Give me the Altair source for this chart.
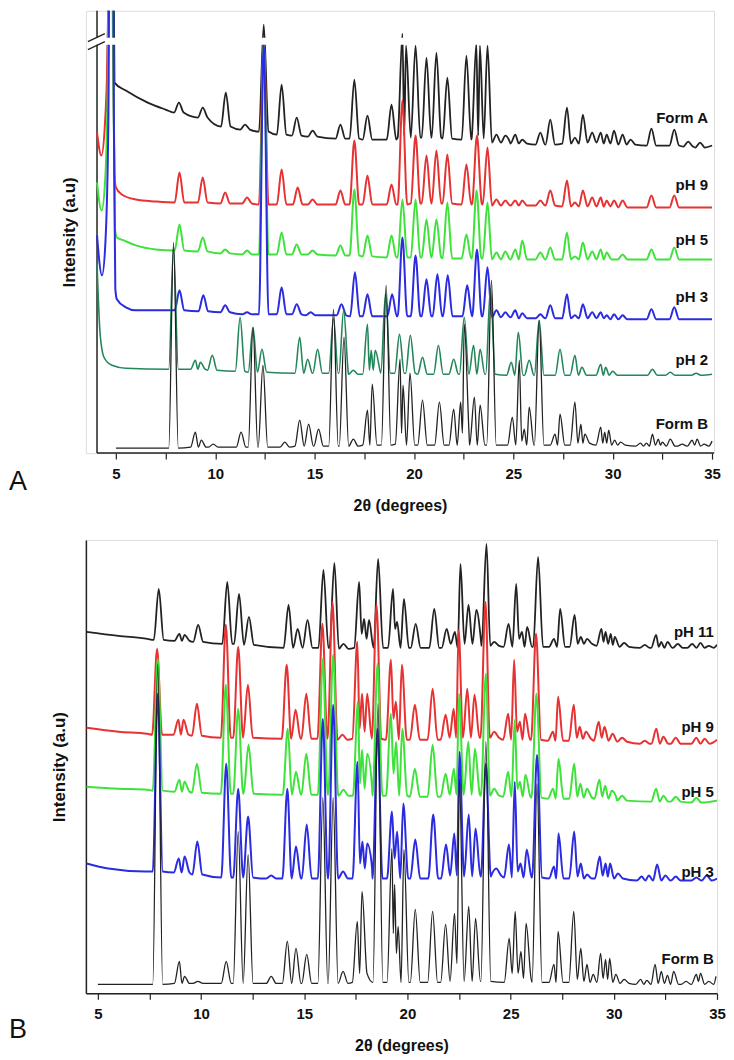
import altair as alt
import pandas as pd

FONT = "Liberation Sans"
W = 0.24  # half width of a peak foot, degrees

BLACK = "#222222"
RED = "#e63232"
LGREEN = "#3ee23a"
BLUE = "#2b2be0"
DGREEN = "#23875a"

# ------------------------------------------------------------------ panel A
A_X_DOMAIN = [3.49, 35.1]      # plot area starts left of the drawn axis line
A_AXIS_X = [4.05, 35.1]        # where panel A's axis lines run
A_Y_DOMAIN = [0, 443]
A_BREAK = [409, 416]

A_FA_BG_X = [4.55, 4.68, 4.75, 4.85, 4.93, 5.5, 6.6, 7.5, 35.0]
A_FA_BG_Y = [341, 600, 900, 600, 371, 363, 351, 344, 308]
A_FA_POS = [8.17, 9.37, 10.53, 11.5, 12.44, 13.34, 14.1, 14.9, 16.3, 17.0, 17.66, 18.87, 19.42, 19.6, 20.08,
            20.63, 21.13, 21.68, 22.64, 23.14, 23.32, 23.7, 24.15, 24.6, 25.1, 25.45, 26.36, 26.86, 27.7, 28.1,
            28.5, 28.97, 29.4, 29.7, 30.07, 30.5, 30.9, 31.95, 33.1, 33.8, 34.4]
A_FA_TOP = [351, 346, 361, 329, 429, 369, 336, 323, 329, 374, 338, 349, 420, 408, 408,
            396, 401, 376, 398, 410, 408, 408, 319, 318, 319, 314, 321, 334, 346, 316,
            339, 321, 321, 319, 323, 319, 314, 325, 324, 312, 311]
A_FA_BASE = [341, 336, 327, 324, 322, 319, 318, 317, 315, 315, 314, 314, 316, 318, 316,
             316, 316, 315, 314, 315, 318, 315, 311, 311, 310, 310, 309, 309, 310, 310,
             310, 311, 311, 310, 310, 309, 309, 308, 308, 307, 306]

A_P9_BG_X = [4.05, 4.27, 4.45, 4.6, 4.72, 4.85, 4.93, 5.0, 5.3, 6.0, 7.0, 35.0]
A_P9_BG_Y = [321, 298, 330, 420, 900, 420, 280, 266, 259, 254, 252, 246]
A_P9_POS = [8.2, 9.37, 10.5, 11.6, 12.44, 13.34, 14.15, 14.9, 16.3, 17.0, 17.66, 18.87, 19.42, 20.08,
            20.63, 21.13, 21.68, 22.64, 23.17, 23.7, 24.15, 24.6, 25.1, 25.45, 26.36, 26.86, 27.7, 28.1,
            28.5, 28.97, 29.4, 29.7, 30.07, 30.5, 31.95, 33.1]
A_P9_TOP = [281, 276, 261, 256, 412, 284, 266, 254, 263, 313, 278, 269, 353, 318,
            298, 303, 299, 289, 318, 306, 254, 253, 253, 253, 253, 263, 273, 251,
            263, 256, 256, 253, 253, 253, 258, 258]
A_P9_BASE = [251, 251, 250, 250, 249, 249, 249, 249, 249, 249, 249, 249, 249, 250,
             250, 250, 250, 249, 250, 249, 248, 248, 248, 248, 248, 248, 247, 247,
             247, 247, 247, 247, 247, 246, 246, 246]

A_P5_BG_X = [4.05, 4.28, 4.45, 4.6, 4.74, 4.87, 4.95, 5.05, 5.4, 6.0, 7.0, 35.0]
A_P5_BG_Y = [271, 243, 270, 380, 900, 380, 225, 216, 213, 208, 204, 194]
A_P5_POS = [8.2, 9.37, 10.5, 11.6, 12.44, 13.34, 14.1, 14.9, 16.3, 17.0, 17.66, 18.87, 19.42, 20.08,
            20.63, 21.13, 21.68, 22.64, 23.15, 23.7, 24.15, 24.6, 25.1, 25.45, 26.36, 26.86, 27.7, 28.1,
            28.5, 28.97, 29.4, 29.7, 30.5, 31.95, 33.1]
A_P5_TOP = [229, 216, 204, 203, 412, 221, 209, 203, 208, 264, 218, 218, 254, 254,
            234, 234, 251, 219, 263, 251, 201, 202, 204, 213, 201, 206, 221, 197,
            211, 202, 204, 201, 199, 204, 206]
A_P5_BASE = [203, 202, 200, 199, 199, 199, 199, 199, 198, 198, 197, 196, 196, 196,
             196, 196, 195, 195, 195, 195, 194, 194, 194, 194, 194, 194, 194, 194,
             194, 194, 194, 194, 194, 194, 194]

A_P3_BG_X = [4.05, 4.3, 4.47, 4.62, 4.76, 4.9, 4.97, 5.05, 5.5, 6.0, 7.0, 35.0]
A_P3_BG_Y = [218, 178, 210, 330, 900, 330, 165, 154, 146, 143, 143, 134]
A_P3_POS = [8.2, 9.4, 10.5, 11.6, 12.44, 13.34, 14.1, 14.8, 16.35, 17.03, 17.66, 18.9, 19.42, 20.08,
            20.63, 21.18, 21.7, 22.68, 23.17, 23.7, 24.15, 24.6, 25.1, 25.45, 26.36, 26.86, 27.7, 28.1,
            28.5, 28.97, 29.4, 29.7, 30.07, 30.5, 31.95, 33.1]
A_P3_TOP = [163, 158, 148, 141, 412, 166, 149, 141, 149, 181, 159, 159, 216, 198,
            174, 179, 178, 168, 204, 186, 143, 141, 143, 140, 139, 148, 159, 138,
            149, 141, 141, 138, 139, 138, 144, 146]
A_P3_BASE = [143, 142, 141, 139, 139, 139, 139, 138, 138, 137, 137, 137, 137, 137,
             137, 137, 137, 137, 137, 137, 136, 136, 136, 135, 135, 135, 135, 135,
             135, 135, 135, 135, 134, 134, 134, 134]

A_P2_BG_X = [4.05, 4.2, 4.4, 4.8, 5.5, 35.0]
A_P2_BG_Y = [190, 121, 96, 88, 85, 79]
A_P2_POS = [7.9, 9.0, 9.25, 9.85, 11.25, 11.9, 12.35, 14.25, 14.65, 15.15, 15.95, 16.46, 16.95, 17.66,
            17.85, 18.05, 18.57, 19.27, 19.82, 20.43, 21.23, 22.0, 22.53, 23.0, 23.33, 23.85, 24.9, 25.25,
            25.8, 26.3, 27.35, 28.1, 28.45, 29.4, 29.65, 30.0, 32.0, 32.9, 34.2]
A_P2_TOP = [206, 93, 91, 98, 136, 126, 104, 116, 94, 104, 135, 143, 83, 129,
            103, 103, 160, 119, 118, 96, 108, 94, 136, 108, 104, 165, 91, 121,
            93, 133, 104, 98, 86, 89, 86, 82, 84, 81, 80]
A_P2_BASE = [84, 84, 84, 83, 82, 81, 81, 80, 80, 80, 80, 80, 79, 79,
             83, 83, 80, 80, 80, 79, 79, 79, 79, 79, 79, 79, 78, 78,
             78, 78, 78, 78, 78, 78, 78, 78, 78, 78, 78]

A_FB_BG_X = [5.0, 35.0]
A_FB_BG_Y = [5, 12]
A_FB_POS = [7.9, 9.0, 9.3, 9.9, 11.3, 11.9, 12.4, 13.5, 14.25, 14.7, 15.2, 15.95, 16.48, 16.95,
            17.66, 17.9, 18.6, 19.3, 19.45, 19.8, 20.43, 21.28, 22.0, 22.35, 22.53, 23.04, 23.33, 23.9,
            24.95, 25.3, 25.55, 25.8, 26.3, 27.1, 27.35, 28.1, 28.4, 28.6, 29.4, 29.6, 29.8, 30.1,
            30.4, 31.4, 31.7, 32.0, 32.3, 32.5, 32.9, 33.5, 34.0, 34.25, 34.6]
A_FB_TOP = [211, 21, 13, 9, 21, 126, 88, 11, 33, 29, 24, 144, 116, 14,
            43, 69, 168, 94, 68, 80, 53, 51, 44, 51, 129, 56, 48, 173,
            36, 93, 24, 46, 133, 19, 39, 51, 29, 19, 26, 21, 23, 13,
            11, 10, 10, 19, 14, 11, 14, 9, 13, 14, 9]
A_FB_BASE = [5, 6, 6, 6, 6, 6, 6, 6, 7, 7, 7, 7, 7, 7,
             8, 8, 8, 9, 20, 8, 8, 8, 8, 8, 20, 8, 8, 8,
             8, 8, 12, 8, 8, 8, 8, 8, 10, 10, 8, 10, 10, 8,
             8, 7, 7, 7, 8, 8, 7, 7, 7, 8, 7]

A_LABELS = ["Form A", "pH 9", "pH 5", "pH 3", "pH 2", "Form B"]
A_LABEL_T = [34.8, 34.8, 34.8, 34.8, 34.8, 34.8]
A_LABEL_V = [336, 268, 213, 156, 93, 29]

# ------------------------------------------------------------------ panel B
B_X_DOMAIN = [4.42, 35.0]
B_Y_DOMAIN = [0, 454]

B_P11_BG_X = [4.45, 6.0, 7.4, 35.0]
B_P11_BG_Y = [362, 358, 355, 349]
B_P11_POS = [7.95, 8.95, 9.2, 9.86, 11.27, 11.84, 12.32, 14.24, 14.68, 15.16, 15.93, 16.46, 16.9, 17.66,
             17.9, 18.14, 18.58, 19.3, 19.5, 19.83, 20.4, 21.3, 21.9, 22.3, 22.57, 22.96, 23.34, 23.83,
             24.2, 24.9, 25.27, 25.55, 25.8, 26.33, 27.1, 27.4, 28.1, 28.4, 28.7, 29.4, 29.6, 29.85,
             30.05, 30.5, 31.5, 32.05, 32.3, 32.6, 33.1, 33.8, 34.2, 34.6]
B_P11_TOP = [405, 360, 359, 369, 412, 400, 377, 389, 365, 374, 424, 431, 350, 412,
             375, 374, 435, 405, 372, 395, 370, 385, 365, 362, 430, 389, 384, 450,
             352, 370, 410, 362, 367, 437, 355, 385, 379, 357, 355, 365, 362, 360,
             357, 351, 349, 359, 352, 352, 350, 350, 351, 348]
B_P11_BASE = [354, 353, 353, 352, 350, 350, 349, 346, 346, 346, 346, 346, 345, 346,
              360, 355, 346, 346, 365, 346, 346, 346, 346, 350, 346, 350, 350, 348,
              348, 347, 347, 355, 347, 347, 347, 347, 347, 350, 350, 348, 352, 350,
              349, 347, 346, 346, 347, 346, 346, 346, 346, 346]

B_P9_BG_X = [4.45, 6.0, 7.4, 35.0]
B_P9_BG_Y = [266, 262, 260, 254]
B_P9_POS = [7.87, 8.9, 9.15, 9.8, 11.2, 11.8, 12.27, 14.15, 14.58, 15.1, 15.88, 16.37, 16.85, 17.57,
            17.8, 18.05, 18.5, 19.2, 19.44, 19.73, 20.36, 21.22, 21.85, 22.24, 22.48, 22.9, 23.25, 23.78,
            24.2, 24.88, 25.17, 25.45, 25.7, 26.23, 27.05, 27.3, 28.06, 28.35, 28.65, 29.27, 29.55, 29.94,
            30.4, 31.5, 32.06, 32.4, 33.0, 34.0, 34.4]
B_P9_TOP = [345, 274, 274, 290, 369, 347, 309, 329, 284, 300, 370, 392, 259, 352,
            300, 300, 389, 334, 292, 329, 289, 305, 279, 285, 364, 305, 299, 392,
            262, 280, 334, 272, 280, 360, 262, 297, 289, 267, 262, 272, 267, 260,
            256, 253, 265, 257, 256, 256, 255]
B_P9_BASE = [259, 259, 259, 258, 256, 256, 256, 255, 255, 255, 255, 255, 254, 255,
             265, 262, 255, 254, 275, 254, 254, 254, 254, 256, 256, 256, 256, 256,
             256, 254, 254, 262, 254, 254, 253, 253, 253, 256, 255, 253, 256, 253,
             252, 250, 250, 250, 250, 250, 250]

B_P5_BG_X = [4.45, 6.0, 7.4, 35.0]
B_P5_BG_Y = [207, 205, 204, 193]
B_P5_POS = [7.9, 8.95, 9.2, 9.8, 11.2, 11.8, 12.3, 14.2, 14.6, 15.1, 15.9, 16.4, 16.9, 17.6,
            17.8, 18.05, 18.55, 19.2, 19.45, 19.75, 20.36, 21.22, 21.85, 22.25, 22.5, 22.95, 23.27, 23.8,
            24.2, 24.88, 25.2, 25.45, 25.72, 26.25, 27.05, 27.32, 28.08, 28.38, 28.7, 29.3, 29.58, 29.9,
            30.4, 32.05, 32.4, 33.0, 34.0]
B_P5_TOP = [335, 214, 212, 230, 309, 285, 249, 265, 222, 240, 335, 339, 204, 292,
            244, 240, 330, 280, 252, 265, 225, 249, 220, 225, 300, 252, 245, 320,
            205, 222, 274, 212, 219, 300, 205, 235, 230, 210, 205, 214, 208, 203,
            198, 205, 198, 197, 196]
B_P5_BASE = [203, 202, 202, 201, 200, 200, 200, 199, 199, 199, 199, 199, 198, 198,
             210, 205, 198, 198, 220, 198, 197, 197, 197, 199, 199, 199, 199, 198,
             198, 197, 197, 205, 197, 196, 195, 195, 195, 197, 196, 195, 197, 195,
             193, 192, 192, 192, 191]

B_P3_BG_X = [4.45, 5.5, 7.3, 35.0]
B_P3_BG_Y = [130, 125, 122, 115]
B_P3_POS = [7.9, 8.92, 9.2, 9.82, 11.22, 11.8, 12.28, 13.4, 14.18, 14.6, 15.12, 15.9, 16.4, 16.88,
            17.58, 17.82, 18.05, 18.55, 19.25, 19.5, 19.8, 20.38, 21.25, 21.87, 22.27, 22.52, 22.97, 23.3,
            23.8, 24.3, 24.92, 25.2, 25.48, 25.78, 26.28, 27.1, 27.32, 28.08, 28.4, 28.7, 29.32, 29.6,
            29.82, 30.2, 31.35, 31.7, 32.1, 32.5, 33.0, 34.0, 34.5]
B_P3_TOP = [300, 135, 137, 152, 230, 205, 177, 118, 205, 147, 169, 275, 289, 122,
            232, 152, 150, 265, 182, 162, 190, 154, 179, 149, 160, 242, 179, 165,
            230, 125, 149, 212, 130, 144, 239, 127, 160, 162, 130, 119, 137, 130,
            130, 120, 117, 118, 129, 118, 117, 116, 118]
B_P3_BASE = [122, 121, 121, 119, 116, 116, 116, 115, 115, 115, 115, 115, 115, 115,
             115, 130, 125, 115, 115, 135, 115, 115, 115, 115, 118, 118, 117, 117,
             117, 118, 116, 116, 122, 116, 116, 115, 115, 115, 117, 115, 115, 118,
             117, 115, 113, 113, 113, 113, 113, 113, 113]

B_FB_BG_X = [5.0, 34.95]
B_FB_BG_Y = [9, 17]
B_FB_POS = [7.9, 8.95, 9.2, 9.85, 11.22, 11.8, 12.28, 13.4, 14.18, 14.6, 15.12, 15.9, 16.4, 16.88,
            17.57, 17.8, 18.57, 19.25, 19.38, 19.55, 19.83, 20.38, 21.22, 21.85, 22.28, 22.52, 22.97, 23.3,
            23.8, 24.93, 25.22, 25.5, 25.75, 26.28, 27.1, 27.3, 28.06, 28.4, 28.7, 29.0, 29.36, 29.6,
            29.8, 30.1, 30.5, 31.3, 31.6, 32.0, 32.3, 32.6, 32.9, 33.5, 34.0, 34.2, 34.6]
B_FB_TOP = [330, 32, 17, 12, 32, 162, 139, 17, 52, 45, 39, 196, 196, 22,
            72, 102, 290, 145, 109, 67, 144, 84, 82, 69, 80, 215, 87, 75,
            252, 55, 82, 42, 70, 210, 29, 62, 82, 45, 29, 19, 40, 34,
            35, 19, 14, 14, 13, 29, 22, 18, 22, 12, 19, 20, 12]
B_FB_BASE = [9, 10, 10, 10, 10, 10, 10, 10, 10, 10, 10, 10, 10, 10,
             11, 20, 11, 11, 60, 40, 11, 11, 11, 11, 12, 30, 12, 12,
             12, 11, 20, 20, 15, 11, 11, 11, 11, 14, 12, 11, 11, 15,
             14, 11, 10, 9, 9, 9, 10, 10, 9, 9, 9, 12, 9]

B_LABELS = ["pH 11", "pH 9", "pH 5", "pH 3", "Form B"]
B_LABEL_T = [34.85, 34.85, 34.85, 34.85, 34.85]
B_LABEL_V = [362, 267, 202, 122, 34]

X_TICKS = [5, 7.5, 10, 12.5, 15, 17.5, 20, 22.5, 25, 27.5, 30, 32.5, 35]


def trace(bg_x, bg_y, pos, top, base):
    """Polyline vertices: read background points plus foot-top-foot of each read peak."""
    pts = []
    for x, y in zip(bg_x, bg_y):
        if all(abs(x - p) > W for p in pos):
            pts.append((x, y))
    n = len(pos)
    for i in range(n):
        lo = pos[i] - W
        if i > 0:
            lo = max(lo, (pos[i - 1] + pos[i]) / 2)
        pts.append((lo, base[i]))
        pts.append((pos[i], top[i]))
        hi = pos[i] + W
        if i == n - 1 or hi < (pos[i] + pos[i + 1]) / 2:
            pts.append((hi, base[i]))
    pts.sort()
    return pd.DataFrame(pts, columns=["t", "v"])


def encoders(xdom, ydom, draw_domain, title_pad):
    x_enc = alt.X("t:Q", scale=alt.Scale(domain=xdom, nice=False, zero=False),
                  axis=alt.Axis(title="2θ (degrees)", values=X_TICKS, format=".1f",
                                labelExpr="datum.value % 5 == 0 ? format(datum.value, 'd') : ''",
                                grid=False, tickSize=6, tickColor=BLACK, tickWidth=1.2,
                                domain=draw_domain, domainColor=BLACK, domainWidth=1.5,
                                labelFont=FONT, labelFontSize=15, labelFontWeight="bold",
                                labelColor="#111", labelPadding=7, labelFlush=False,
                                labelOverlap=False, titleFont=FONT, titleFontSize=16,
                                titleFontWeight="bold", titleColor="#111", titlePadding=16))
    y_enc = alt.Y("v:Q", scale=alt.Scale(domain=ydom, nice=False, zero=False),
                  axis=alt.Axis(title="Intensity (a.u)", labels=False, ticks=False, grid=False,
                                domain=draw_domain, domainColor=BLACK, domainWidth=1.5,
                                titleFont=FONT, titleFontSize=17, titleFontWeight="bold",
                                titleColor="#111", titlePadding=title_pad))
    return x_enc, y_enc


def panel(x_enc, y_enc, width, height, series, labels, label_t, label_v, letter, letter_x, letter_y,
          before=(), after=()):
    layers = list(before)
    for df, color, sw in series:
        layers.append(alt.Chart(df).mark_line(interpolate="monotone", clip=True, color=color,
                                              strokeWidth=sw).encode(x=x_enc, y=y_enc))
    layers.extend(after)
    lab_df = pd.DataFrame({"t": label_t, "v": label_v, "label": labels})
    layers.append(alt.Chart(lab_df).mark_text(align="right", baseline="middle", font=FONT,
                                              fontSize=15, fontWeight="bold", color="#111").encode(
        x=x_enc, y=y_enc, text="label:N"))
    layers.append(alt.Chart(pd.DataFrame({"s": [letter]})).mark_text(
        align="left", baseline="alphabetic", font=FONT, fontSize=27, color="#111").encode(
        x=alt.value(letter_x), y=alt.value(letter_y), text="s:N"))
    return alt.layer(*layers).properties(width=width, height=height)


# ---- panel A
ax, ay = encoders(A_X_DOMAIN, A_Y_DOMAIN, False, 7)
a_xaxis = alt.Chart(pd.DataFrame({"t": [A_AXIS_X[0]], "t2": [A_AXIS_X[1]], "v": [A_Y_DOMAIN[0]]})).mark_rule(
    color=BLACK, strokeWidth=1.5).encode(x=ax, x2="t2:Q", y=ay)
a_yaxis = alt.Chart(pd.DataFrame({"t": [A_AXIS_X[0]], "v": [A_Y_DOMAIN[0]], "v2": [A_Y_DOMAIN[1]]})).mark_rule(
    color=BLACK, strokeWidth=1.5).encode(x=ax, y=ay, y2="v2:Q")
a_band = alt.Chart(pd.DataFrame({"t": [3.85], "t2": [A_AXIS_X[1]], "v": [A_BREAK[0]], "v2": [A_BREAK[1]]})).mark_rect(
    color="white").encode(x=ax, x2="t2:Q", y=ay, y2="v2:Q")
one = pd.DataFrame({"k": [0]})
a_slash1 = alt.Chart(one).mark_rule(color=BLACK, strokeWidth=1.3).encode(
    x=alt.value(2), x2=alt.value(19), y=alt.value(31), y2=alt.value(23))
a_slash2 = alt.Chart(one).mark_rule(color=BLACK, strokeWidth=1.3).encode(
    x=alt.value(2), x2=alt.value(19), y=alt.value(39), y2=alt.value(31))

a_series = [
    (trace(A_FA_BG_X, A_FA_BG_Y, A_FA_POS, A_FA_TOP, A_FA_BASE), BLACK, 1.8),
    (trace(A_P9_BG_X, A_P9_BG_Y, A_P9_POS, A_P9_TOP, A_P9_BASE), RED, 2.0),
    (trace(A_P5_BG_X, A_P5_BG_Y, A_P5_POS, A_P5_TOP, A_P5_BASE), LGREEN, 2.0),
    (trace(A_P3_BG_X, A_P3_BG_Y, A_P3_POS, A_P3_TOP, A_P3_BASE), BLUE, 2.0),
    (trace(A_P2_BG_X, A_P2_BG_Y, A_P2_POS, A_P2_TOP, A_P2_BASE), DGREEN, 1.6),
    (trace(A_FB_BG_X, A_FB_BG_Y, A_FB_POS, A_FB_TOP, A_FB_BASE), BLACK, 1.3),
]
panel_a = panel(ax, ay, 629, 443, a_series, A_LABELS, A_LABEL_T, A_LABEL_V, "A", -77, 480,
                before=[a_xaxis, a_yaxis], after=[a_band, a_slash1, a_slash2])

# ---- panel B
bx, by = encoders(B_X_DOMAIN, B_Y_DOMAIN, True, 17)
b_series = [
    (trace(B_P11_BG_X, B_P11_BG_Y, B_P11_POS, B_P11_TOP, B_P11_BASE), BLACK, 1.8),
    (trace(B_P9_BG_X, B_P9_BG_Y, B_P9_POS, B_P9_TOP, B_P9_BASE), RED, 2.0),
    (trace(B_P5_BG_X, B_P5_BG_Y, B_P5_POS, B_P5_TOP, B_P5_BASE), LGREEN, 2.0),
    (trace(B_P3_BG_X, B_P3_BG_Y, B_P3_POS, B_P3_TOP, B_P3_BASE), BLUE, 2.0),
    (trace(B_FB_BG_X, B_FB_BG_Y, B_FB_POS, B_FB_TOP, B_FB_BASE), BLACK, 1.3),
]
panel_b = panel(bx, by, 632, 454, b_series, B_LABELS, B_LABEL_T, B_LABEL_V, "B", -77, 499)

chart = alt.vconcat(panel_a, panel_b, spacing=25).properties(
    padding={"left": 0, "top": 0, "right": 0, "bottom": 0}
).configure_view(stroke=None).configure(background="white")

chart.save("out.html", embed_options={"renderer": "svg", "actions": False})
